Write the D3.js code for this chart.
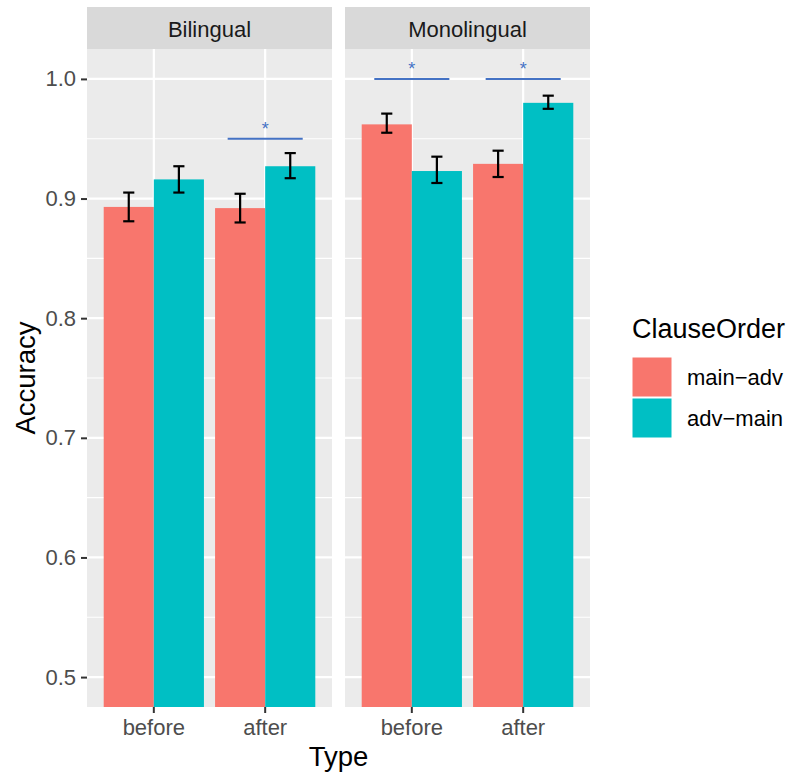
<!DOCTYPE html>
<html>
<head>
<meta charset="utf-8">
<script src="https://cdn.jsdelivr.net/npm/d3@7"></script>
<style>
  html, body { margin: 0; padding: 0; background: #ffffff; }
  svg { display: block; font-family: "Liberation Sans", Arial, sans-serif; }
</style>
</head>
<body>
<svg id="chart" width="790" height="778"></svg>
<script>
// ---------------- data ----------------
const facets = ["Bilingual", "Monolingual"];
const types = ["before", "after"];
const orders = ["main-adv", "adv-main"];
const orderColors = ["#F8766D", "#00BFC4"];

// mean accuracy per facet, type, clause order
const rowFacet = ["Bilingual", "Bilingual", "Bilingual", "Bilingual",
                  "Monolingual", "Monolingual", "Monolingual", "Monolingual"];
const rowType  = ["before", "before", "after", "after",
                  "before", "before", "after", "after"];
const rowOrder = ["main-adv", "adv-main", "main-adv", "adv-main",
                  "main-adv", "adv-main", "main-adv", "adv-main"];
const rowMean  = [0.893, 0.916, 0.892, 0.927, 0.962, 0.923, 0.929, 0.980];
const rowLow   = [0.881, 0.905, 0.880, 0.917, 0.955, 0.913, 0.918, 0.975];
const rowHigh  = [0.905, 0.927, 0.904, 0.938, 0.971, 0.935, 0.940, 0.986];

// significance annotations
const sigFacet = ["Bilingual", "Monolingual", "Monolingual"];
const sigType  = ["after", "before", "after"];
const sigY     = [0.95, 1.0, 1.0];
const sigLabel = ["*", "*", "*"];

const yTicks = [0.5, 0.6, 0.7, 0.8, 0.9, 1.0];
const yMinor = [0.55, 0.65, 0.75, 0.85, 0.95];
const yLimits = [0.5, 1.0];

const rows = rowMean.map((m, i) => ({
  facet: rowFacet[i], type: rowType[i], order: rowOrder[i],
  mean: m, low: rowLow[i], high: rowHigh[i]
}));
const sigs = sigY.map((y, i) => ({ facet: sigFacet[i], type: sigType[i], y, label: sigLabel[i] }));

// ---------------- layout ----------------
const svg = d3.select("#chart");
const panelTop = 49, panelBottom = 707, stripTop = 7;
const panelsLeft = 87, panelsRight = 590;

const expand = (yLimits[1] - yLimits[0]) * 0.05;
const y = d3.scaleLinear()
  .domain([yLimits[0] - expand, yLimits[1] + expand])
  .range([panelBottom, panelTop]);

const fx = d3.scaleBand().domain(facets)
  .range([panelsLeft, panelsRight])
  .paddingInner(13 / 258).paddingOuter(0);
const pw = fx.bandwidth();

const x = d3.scaleBand().domain(types).range([0, pw])
  .paddingInner(0).paddingOuter(0.1);
const step = x.step();
const xo = d3.scaleBand().domain(orders)
  .range([0.05 * step, 0.95 * step]);
const color = d3.scaleOrdinal().domain(orders).range(orderColors);

const font = "'Liberation Sans', Arial, sans-serif";

facets.forEach(f => {
  const g = svg.append("g").attr("transform", `translate(${fx(f)},0)`);

  // strip
  g.append("rect").attr("x", 0).attr("y", stripTop).attr("width", pw)
    .attr("height", panelTop - stripTop).attr("fill", "#D9D9D9");
  g.append("text").attr("x", pw / 2).attr("y", 36.5)
    .attr("text-anchor", "middle").attr("font-size", 22)
    .attr("fill", "#1A1A1A").text(f);

  // panel background
  g.append("rect").attr("x", 0).attr("y", panelTop).attr("width", pw)
    .attr("height", panelBottom - panelTop).attr("fill", "#EBEBEB");

  // grid
  g.selectAll(".minor").data(yMinor).join("line")
    .attr("x1", 0).attr("x2", pw)
    .attr("y1", d => y(d)).attr("y2", d => y(d))
    .attr("stroke", "#FFFFFF").attr("stroke-width", 1.1);
  g.selectAll(".major").data(yTicks).join("line")
    .attr("x1", 0).attr("x2", pw)
    .attr("y1", d => y(d)).attr("y2", d => y(d))
    .attr("stroke", "#FFFFFF").attr("stroke-width", 2.2);
  g.selectAll(".vmajor").data(types).join("line")
    .attr("x1", d => x(d) + step / 2).attr("x2", d => x(d) + step / 2)
    .attr("y1", panelTop).attr("y2", panelBottom)
    .attr("stroke", "#FFFFFF").attr("stroke-width", 2.2);

  const clip = g.append("clipPath").attr("id", "clip-" + f)
    .append("rect").attr("x", 0).attr("y", panelTop).attr("width", pw)
    .attr("height", panelBottom - panelTop);

  const fr = rows.filter(r => r.facet === f);
  // bars
  g.append("g").attr("clip-path", `url(#clip-${f})`)
    .selectAll("rect").data(fr).join("rect")
    .attr("x", d => x(d.type) + xo(d.order))
    .attr("width", xo.bandwidth())
    .attr("y", d => y(d.mean))
    .attr("height", d => y(0) - y(d.mean))
    .attr("fill", d => color(d.order));

  // error bars
  const eb = g.append("g").attr("stroke", "#000000").attr("stroke-width", 2.2).attr("fill", "none");
  const capHalf = 0.05 * step;
  fr.forEach(d => {
    const cx = x(d.type) + xo(d.order) + xo.bandwidth() / 2;
    eb.append("line").attr("x1", cx).attr("x2", cx).attr("y1", y(d.low)).attr("y2", y(d.high));
    eb.append("line").attr("x1", cx - capHalf).attr("x2", cx + capHalf).attr("y1", y(d.low)).attr("y2", y(d.low));
    eb.append("line").attr("x1", cx - capHalf).attr("x2", cx + capHalf).attr("y1", y(d.high)).attr("y2", y(d.high));
  });

  // significance
  sigs.filter(s => s.facet === f).forEach(s => {
    const cx = x(s.type) + step / 2;
    g.append("line").attr("x1", cx - 0.337 * step).attr("x2", cx + 0.337 * step)
      .attr("y1", y(s.y)).attr("y2", y(s.y))
      .attr("stroke", "#4472C4").attr("stroke-width", 2);
    g.append("text").attr("x", cx).attr("y", y(s.y) - 4)
      .attr("text-anchor", "middle").attr("font-size", 18)
      .attr("fill", "#4472C4").text(s.label);
  });

  // x axis
  const xAxis = g.append("g").attr("transform", `translate(0,${panelBottom})`)
    .call(d3.axisBottom(x).tickSize(6).tickPadding(6));
  xAxis.select(".domain").remove();
  xAxis.selectAll(".tick line").attr("stroke", "#333333").attr("stroke-width", 2);
  xAxis.selectAll(".tick text").attr("font-size", 22).attr("fill", "#4D4D4D")
    .attr("font-family", font);
});

// y axis
const yAxis = svg.append("g").attr("transform", `translate(${panelsLeft},0)`)
  .call(d3.axisLeft(y).tickValues(yTicks).tickFormat(d3.format(".1f")).tickSize(6).tickPadding(5));
yAxis.select(".domain").remove();
yAxis.selectAll(".tick line").attr("stroke", "#333333").attr("stroke-width", 2);
yAxis.selectAll(".tick text").attr("font-size", 22).attr("fill", "#4D4D4D")
  .attr("font-family", font);

// axis titles
svg.append("text").attr("x", (panelsLeft + panelsRight) / 2).attr("y", 766)
  .attr("text-anchor", "middle").attr("font-size", 27.5).attr("fill", "#000000").text("Type");
svg.append("text")
  .attr("transform", `translate(35,${(panelTop + panelBottom) / 2}) rotate(-90)`)
  .attr("text-anchor", "middle").attr("font-size", 27.5).attr("fill", "#000000").text("Accuracy");

// legend
const lg = svg.append("g").attr("transform", "translate(632,0)");
lg.append("text").attr("x", 0).attr("y", 338).attr("font-size", 27)
  .attr("fill", "#000000").text("ClauseOrder");
orders.forEach((o, i) => {
  const ky = 357 + i * 41;
  lg.append("rect").attr("x", 0).attr("y", ky).attr("width", 40).attr("height", 40)
    .attr("fill", color(o)).attr("stroke", "#FFFFFF").attr("stroke-width", 1);
  lg.append("text").attr("x", 55).attr("y", ky + 28).attr("font-size", 22)
    .attr("fill", "#000000").text(o.replace("-", "\u2212"));
});
</script>
</body>
</html>
